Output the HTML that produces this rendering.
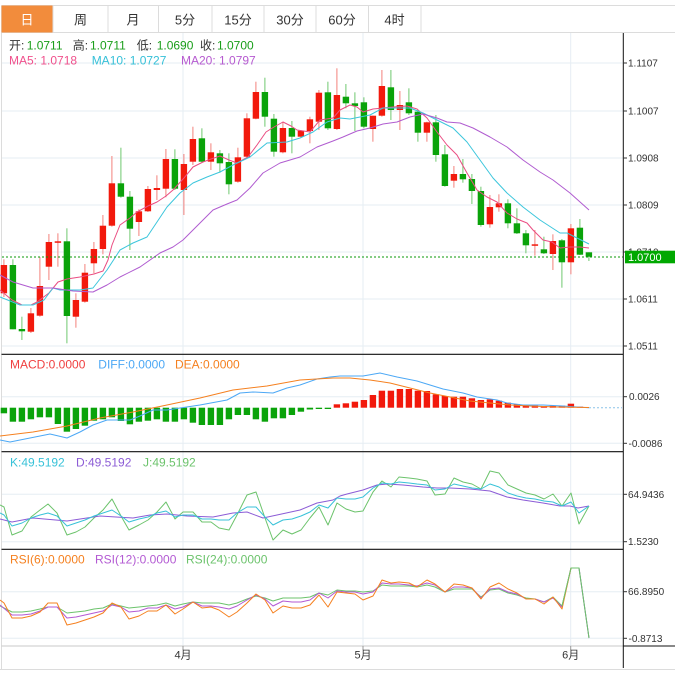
<!DOCTYPE html>
<html><head><meta charset="utf-8"><style>
html,body{margin:0;padding:0;background:#fff;}
body{width:675px;height:676px;overflow:hidden;}
svg{display:block;}
text{font-family:"Liberation Sans","Noto Sans CJK SC",sans-serif;}
.r{fill:#f2190c}.g{fill:#0aa30a}
.rw{stroke:#f4817c;stroke-width:1}.gw{stroke:#6fc86f;stroke-width:1}
.grid{stroke:#e6edf3;stroke-width:1}
.ax{font-size:10px;fill:#333}
.tk{stroke:#333;stroke-width:1}
.tab{font-size:13px;fill:#333;text-anchor:middle}
.pl{fill:none;stroke-width:1;stroke-linejoin:round}
</style></head><body>
<svg width="675" height="676" viewBox="0 0 675 676" xmlns="http://www.w3.org/2000/svg">
<!-- tab bar -->
<line x1="1.5" y1="5.5" x2="675" y2="5.5" stroke="#dcdcdc"/>
<line x1="1.5" y1="32.5" x2="675" y2="32.5" stroke="#dcdcdc"/>
<line x1="1.5" y1="5.5" x2="1.5" y2="669" stroke="#dcdcdc"/>
<rect x="1.5" y="5.5" width="51.5" height="27" fill="#f28c3c"/>
<g stroke="#dcdcdc">
<line x1="53" y1="5.5" x2="53" y2="32.5"/><line x1="108" y1="5.5" x2="108" y2="32.5"/>
<line x1="158.5" y1="5.5" x2="158.5" y2="32.5"/><line x1="212" y1="5.5" x2="212" y2="32.5"/>
<line x1="264" y1="5.5" x2="264" y2="32.5"/><line x1="316" y1="5.5" x2="316" y2="32.5"/>
<line x1="368.5" y1="5.5" x2="368.5" y2="32.5"/><line x1="421" y1="5.5" x2="421" y2="32.5"/>
</g>
<text class="tab" x="27" y="24.5" style="fill:#fff">日</text>
<text class="tab" x="80.5" y="24.5">周</text>
<text class="tab" x="133" y="24.5">月</text>
<text class="tab" x="185" y="24.5">5分</text>
<text class="tab" x="238" y="24.5">15分</text>
<text class="tab" x="290" y="24.5">30分</text>
<text class="tab" x="342" y="24.5">60分</text>
<text class="tab" x="394.5" y="24.5">4时</text>

<!-- grid -->
<g class="grid">
<line x1="2" y1="63" x2="623" y2="63"/><line x1="2" y1="111" x2="623" y2="111"/>
<line x1="2" y1="158" x2="623" y2="158"/><line x1="2" y1="205" x2="623" y2="205"/>
<line x1="2" y1="252" x2="623" y2="252"/><line x1="2" y1="299" x2="623" y2="299"/>
<line x1="2" y1="346" x2="623" y2="346"/>
<line x1="2" y1="396.7" x2="623" y2="396.7"/><line x1="2" y1="443.3" x2="623" y2="443.3"/>
<line x1="2" y1="494.3" x2="623" y2="494.3"/><line x1="2" y1="541.7" x2="623" y2="541.7"/>
<line x1="2" y1="591.7" x2="623" y2="591.7"/><line x1="2" y1="638.3" x2="623" y2="638.3"/>
<line x1="183" y1="33" x2="183" y2="646"/><line x1="363" y1="33" x2="363" y2="646"/>
<line x1="570.7" y1="33" x2="570.7" y2="646"/>
</g>

<!-- legends -->
<g font-size="12">
<text x="9" y="49.5" fill="#333">开:</text><text x="26.7" y="49.5" fill="#1a9e1a">1.0711</text>
<text x="72.7" y="49.5" fill="#333">高:</text><text x="90" y="49.5" fill="#1a9e1a">1.0711</text>
<text x="136.7" y="49.5" fill="#333">低:</text><text x="156.7" y="49.5" fill="#1a9e1a">1.0690</text>
<text x="200" y="49.5" fill="#333">收:</text><text x="217" y="49.5" fill="#1a9e1a">1.0700</text>
<text x="9" y="64.5" fill="#f0508c">MA5: 1.0718</text>
<text x="91.7" y="64.5" fill="#36c0d8">MA10: 1.0727</text>
<text x="181" y="64.5" fill="#b65ad0">MA20: 1.0797</text>
<text x="10" y="368.5" fill="#f04040">MACD:0.0000</text>
<text x="98.3" y="368.5" fill="#4ca8f5">DIFF:0.0000</text>
<text x="175" y="368.5" fill="#f5801f">DEA:0.0000</text>
<text x="10" y="466.5" fill="#38c2d8">K:49.5192</text>
<text x="76" y="466.5" fill="#8c5cd6">D:49.5192</text>
<text x="143" y="466.5" fill="#6cc36c">J:49.5192</text>
<text x="10" y="563.5" fill="#f5801f">RSI(6):0.0000</text>
<text x="95" y="563.5" fill="#b35ad3">RSI(12):0.0000</text>
<text x="186" y="563.5" fill="#6cc36c">RSI(24):0.0000</text>
</g>

<!-- candles -->
<g>
<line class="rw" x1="3.9" y1="259.3" x2="3.9" y2="297"/><rect class="r" x="0.7" y="265" width="6.4" height="28.3"/>
<line class="gw" x1="12.9" y1="259.3" x2="12.9" y2="329.3"/><rect class="g" x="9.7" y="265" width="6.4" height="64.3"/>
<line class="gw" x1="21.9" y1="316.7" x2="21.9" y2="340"/><rect class="g" x="18.7" y="329" width="6.4" height="2.3"/>
<line class="rw" x1="30.9" y1="308" x2="30.9" y2="333"/><rect class="r" x="27.7" y="313.3" width="6.4" height="18.4"/>
<line class="rw" x1="39.9" y1="257" x2="39.9" y2="316.7"/><rect class="r" x="36.7" y="286" width="6.4" height="29.7"/>
<line class="rw" x1="48.9" y1="234" x2="48.9" y2="280"/><rect class="r" x="45.7" y="242" width="6.4" height="24.7"/>
<line class="rw" x1="57.9" y1="233.3" x2="57.9" y2="266.7"/><rect class="r" x="54.7" y="241.3" width="6.4" height="1.5"/>
<line class="gw" x1="66.9" y1="228.3" x2="66.9" y2="343.3"/><rect class="g" x="63.7" y="241.3" width="6.4" height="74.7"/>
<line class="rw" x1="75.9" y1="293.3" x2="75.9" y2="327.7"/><rect class="r" x="72.7" y="300" width="6.4" height="16.7"/>
<line class="rw" x1="84.9" y1="264" x2="84.9" y2="302.7"/><rect class="r" x="81.7" y="272.7" width="6.4" height="29"/>
<line class="rw" x1="93.9" y1="242" x2="93.9" y2="273.3"/><rect class="r" x="90.7" y="249" width="6.4" height="14.3"/>
<line class="rw" x1="102.9" y1="215" x2="102.9" y2="254.3"/><rect class="r" x="99.7" y="225.7" width="6.4" height="23.3"/>
<line class="rw" x1="111.9" y1="156" x2="111.9" y2="226.7"/><rect class="r" x="108.7" y="183.3" width="6.4" height="42.4"/>
<line class="gw" x1="120.9" y1="147.7" x2="120.9" y2="197.7"/><rect class="g" x="117.7" y="183.3" width="6.4" height="13.4"/>
<line class="gw" x1="129.9" y1="191" x2="129.9" y2="250"/><rect class="g" x="126.7" y="196.7" width="6.4" height="32"/>
<line class="rw" x1="138.9" y1="209.3" x2="138.9" y2="236"/><rect class="r" x="135.7" y="211.3" width="6.4" height="10.7"/>
<line class="rw" x1="147.9" y1="186" x2="147.9" y2="212"/><rect class="r" x="144.7" y="189" width="6.4" height="22.3"/>
<line class="rw" x1="156.9" y1="175.3" x2="156.9" y2="200"/><rect class="r" x="153.7" y="188" width="6.4" height="2"/>
<line class="rw" x1="165.9" y1="149" x2="165.9" y2="197.3"/><rect class="r" x="162.7" y="159" width="6.4" height="29.7"/>
<line class="gw" x1="174.9" y1="149.3" x2="174.9" y2="190"/><rect class="g" x="171.7" y="159" width="6.4" height="29.7"/>
<line class="rw" x1="183.9" y1="154" x2="183.9" y2="215"/><rect class="r" x="180.7" y="164" width="6.4" height="26"/>
<line class="rw" x1="192.9" y1="126.7" x2="192.9" y2="165"/><rect class="r" x="189.7" y="139" width="6.4" height="22.7"/>
<line class="gw" x1="201.9" y1="128.3" x2="201.9" y2="162.3"/><rect class="g" x="198.7" y="138.3" width="6.4" height="23.4"/>
<line class="rw" x1="210.9" y1="143.3" x2="210.9" y2="170"/><rect class="r" x="207.7" y="152.3" width="6.4" height="9.4"/>
<line class="gw" x1="219.9" y1="150" x2="219.9" y2="172.7"/><rect class="g" x="216.7" y="153.3" width="6.4" height="10"/>
<line class="gw" x1="228.9" y1="153.3" x2="228.9" y2="194.3"/><rect class="g" x="225.7" y="162" width="6.4" height="22.3"/>
<line class="rw" x1="237.9" y1="147.7" x2="237.9" y2="182.7"/><rect class="r" x="234.7" y="157.3" width="6.4" height="24.4"/>
<line class="rw" x1="246.9" y1="113.3" x2="246.9" y2="157.7"/><rect class="r" x="243.7" y="118.3" width="6.4" height="38.4"/>
<line class="rw" x1="255.9" y1="81.7" x2="255.9" y2="119.3"/><rect class="r" x="252.7" y="92" width="6.4" height="26.7"/>
<line class="gw" x1="264.9" y1="77.7" x2="264.9" y2="126.7"/><rect class="g" x="261.7" y="92" width="6.4" height="24.7"/>
<line class="gw" x1="273.9" y1="114" x2="273.9" y2="156.7"/><rect class="g" x="270.7" y="118.7" width="6.4" height="33"/>
<line class="rw" x1="282.9" y1="121.7" x2="282.9" y2="153.3"/><rect class="r" x="279.7" y="128" width="6.4" height="24.3"/>
<line class="gw" x1="291.9" y1="121" x2="291.9" y2="153.3"/><rect class="g" x="288.7" y="128" width="6.4" height="8.7"/>
<line class="rw" x1="300.9" y1="130" x2="300.9" y2="137.3"/><rect class="r" x="297.7" y="130.7" width="6.4" height="6"/>
<line class="rw" x1="309.9" y1="116.7" x2="309.9" y2="143.3"/><rect class="r" x="306.7" y="119.3" width="6.4" height="11.7"/>
<line class="rw" x1="318.9" y1="90" x2="318.9" y2="130"/><rect class="r" x="315.7" y="92.7" width="6.4" height="29"/>
<line class="gw" x1="327.9" y1="81.7" x2="327.9" y2="130"/><rect class="g" x="324.7" y="92.3" width="6.4" height="36"/>
<line class="rw" x1="336.9" y1="68.3" x2="336.9" y2="130"/><rect class="r" x="333.7" y="95" width="6.4" height="34"/>
<line class="gw" x1="345.9" y1="84" x2="345.9" y2="108.3"/><rect class="g" x="342.7" y="96.7" width="6.4" height="6.6"/>
<line class="gw" x1="354.9" y1="92.3" x2="354.9" y2="131"/><rect class="g" x="351.7" y="103.3" width="6.4" height="2.7"/>
<line class="gw" x1="363.9" y1="97.3" x2="363.9" y2="128.3"/><rect class="g" x="360.7" y="102.3" width="6.4" height="24.4"/>
<line class="rw" x1="372.9" y1="115.7" x2="372.9" y2="141.7"/><rect class="r" x="369.7" y="115.7" width="6.4" height="13.3"/>
<line class="rw" x1="381.9" y1="70" x2="381.9" y2="116.7"/><rect class="r" x="378.7" y="86" width="6.4" height="29.7"/>
<line class="gw" x1="390.9" y1="70" x2="390.9" y2="120"/><rect class="g" x="387.7" y="87.3" width="6.4" height="22.7"/>
<line class="rw" x1="399.9" y1="91" x2="399.9" y2="130"/><rect class="r" x="396.7" y="105" width="6.4" height="5"/>
<line class="gw" x1="408.9" y1="88.3" x2="408.9" y2="115"/><rect class="g" x="405.7" y="102.3" width="6.4" height="11"/>
<line class="gw" x1="417.9" y1="110" x2="417.9" y2="141.7"/><rect class="g" x="414.7" y="111.7" width="6.4" height="21"/>
<line class="rw" x1="426.9" y1="121.7" x2="426.9" y2="141.7"/><rect class="r" x="423.7" y="122.3" width="6.4" height="10.4"/>
<line class="gw" x1="435.9" y1="115" x2="435.9" y2="161.7"/><rect class="g" x="432.7" y="122.3" width="6.4" height="32.7"/>
<line class="gw" x1="444.9" y1="145" x2="444.9" y2="186.7"/><rect class="g" x="441.7" y="154.3" width="6.4" height="31.7"/>
<line class="rw" x1="453.9" y1="166" x2="453.9" y2="187.7"/><rect class="r" x="450.7" y="174" width="6.4" height="6.7"/>
<line class="gw" x1="462.9" y1="159" x2="462.9" y2="182.7"/><rect class="g" x="459.7" y="174" width="6.4" height="5.3"/>
<line class="gw" x1="471.9" y1="174" x2="471.9" y2="204"/><rect class="g" x="468.7" y="179" width="6.4" height="12"/>
<line class="gw" x1="480.9" y1="186.7" x2="480.9" y2="226.7"/><rect class="g" x="477.7" y="191" width="6.4" height="34"/>
<line class="rw" x1="489.9" y1="195" x2="489.9" y2="227.7"/><rect class="r" x="486.7" y="207" width="6.4" height="17.3"/>
<line class="rw" x1="498.9" y1="194.3" x2="498.9" y2="211.7"/><rect class="r" x="495.7" y="203.3" width="6.4" height="4"/>
<line class="gw" x1="507.9" y1="199.3" x2="507.9" y2="228.3"/><rect class="g" x="504.7" y="203.3" width="6.4" height="20"/>
<line class="gw" x1="516.9" y1="208.3" x2="516.9" y2="234"/><rect class="g" x="513.7" y="223.3" width="6.4" height="10"/>
<line class="gw" x1="525.9" y1="230" x2="525.9" y2="253.3"/><rect class="g" x="522.7" y="233.3" width="6.4" height="12"/>
<line class="rw" x1="534.9" y1="230" x2="534.9" y2="255.7"/><rect class="r" x="531.7" y="244.3" width="6.4" height="1.5"/>
<line class="gw" x1="543.9" y1="236.7" x2="543.9" y2="254"/><rect class="g" x="540.7" y="249.3" width="6.4" height="4"/>
<line class="rw" x1="552.9" y1="234.3" x2="552.9" y2="270"/><rect class="r" x="549.7" y="241" width="6.4" height="13"/>
<line class="gw" x1="561.9" y1="239" x2="561.9" y2="287.7"/><rect class="g" x="558.7" y="240.3" width="6.4" height="22"/>
<line class="rw" x1="570.9" y1="224" x2="570.9" y2="274.3"/><rect class="r" x="567.7" y="228.3" width="6.4" height="34"/>
<line class="gw" x1="579.9" y1="219" x2="579.9" y2="255"/><rect class="g" x="576.7" y="227.7" width="6.4" height="27"/>
<line class="gw" x1="588.9" y1="252.3" x2="588.9" y2="261"/><rect class="g" x="585.7" y="252.3" width="6.4" height="4.4"/>
</g>

<!-- MA lines -->
<polyline class="pl" stroke="#ea4d82" points="0,290 12,300 22,305 31,305 37,302 49,293 58,282 67,279 80,277 94,274 103,271 108,260 112,245 120,225 130,218 137,212 148,206 157,202 166,196 173,190 184,178 193,167 203,162 211,159 220,156 229,160 237,163 248,157 257,145 266,132 274,127 283,122 291,126 297,130 310,132 320,120 333,118 340,110 350,105 357,107 363,112 373,109 383,108 393,107 407,106 417,109 427,118 437,132 447,145 457,155 467,173 477,190 487,197 497,202 507,213 517,219 527,223 533,230 543,240 552,242 560,248 570,247 580,247 589,248"/>
<polyline class="pl" stroke="#3cc6dc" points="0,297 20,305 33,305 44,300 53,288 60,290 67,290 80,290 93,288 107,270 120,250 133,243 147,237 157,222 167,207 180,193 193,183 207,177 220,172 233,165 250,157 267,143 287,142 300,138 313,132 327,122 340,118 350,119 370,115 383,108 397,108 410,108 423,113 437,120 453,128 467,142 480,160 493,178 507,193 523,207 540,220 560,233 567,233 577,238 589,244"/>
<polyline class="pl" stroke="#b05cd0" points="0,275 13,282 33,288 53,288 73,291 93,292 107,285 120,277 140,267 160,253 173,247 183,240 200,223 213,210 227,204 237,200 250,188 263,173 280,163 300,157 317,147 333,141 343,137 357,131 370,128 383,124 397,122 410,117 423,114 437,118 447,122 460,123 473,128 490,137 507,147 523,160 540,172 553,180 570,193 589,210"/>

<!-- current price line -->
<line x1="2" y1="257" x2="623" y2="257" stroke="#0a9a0a" stroke-dasharray="2,2"/>

<!-- MACD histogram -->
<g class="g">
<rect x="0.7" y="407.7" width="6.4" height="5.6"/><rect x="9.7" y="407.7" width="6.4" height="14"/>
<rect x="18.7" y="407.7" width="6.4" height="14"/><rect x="27.7" y="407.7" width="6.4" height="11.6"/>
<rect x="36.7" y="407.7" width="6.4" height="9.6"/><rect x="45.7" y="407.7" width="6.4" height="9.6"/>
<rect x="54.7" y="407.7" width="6.4" height="16.3"/><rect x="63.7" y="407.7" width="6.4" height="24"/>
<rect x="72.7" y="407.7" width="6.4" height="21.3"/><rect x="81.7" y="407.7" width="6.4" height="18"/>
<rect x="90.7" y="407.7" width="6.4" height="13"/><rect x="99.7" y="407.7" width="6.4" height="11.6"/>
<rect x="108.7" y="407.7" width="6.4" height="9.6"/><rect x="117.7" y="407.7" width="6.4" height="13.3"/>
<rect x="126.7" y="407.7" width="6.4" height="16.6"/><rect x="135.7" y="407.7" width="6.4" height="14"/>
<rect x="144.7" y="407.7" width="6.4" height="13"/><rect x="153.7" y="407.7" width="6.4" height="11.6"/>
<rect x="162.7" y="407.7" width="6.4" height="14"/><rect x="171.7" y="407.7" width="6.4" height="14"/>
<rect x="180.7" y="407.7" width="6.4" height="11.6"/><rect x="189.7" y="407.7" width="6.4" height="15"/>
<rect x="198.7" y="407.7" width="6.4" height="17.3"/><rect x="207.7" y="407.7" width="6.4" height="17.3"/>
<rect x="216.7" y="407.7" width="6.4" height="17.3"/><rect x="225.7" y="407.7" width="6.4" height="11.6"/>
<rect x="234.7" y="407.7" width="6.4" height="7.3"/><rect x="243.7" y="407.7" width="6.4" height="7.3"/>
<rect x="252.7" y="407.7" width="6.4" height="11.6"/><rect x="261.7" y="407.7" width="6.4" height="14"/>
<rect x="270.7" y="407.7" width="6.4" height="10.6"/><rect x="279.7" y="407.7" width="6.4" height="10.6"/>
<rect x="288.7" y="407.7" width="6.4" height="7.3"/><rect x="297.7" y="407.7" width="6.4" height="4"/>
<rect x="306.7" y="407.7" width="6.4" height="1.8"/><rect x="315.7" y="407.7" width="6.4" height="1.3"/>
<rect x="324.7" y="407.7" width="6.4" height="1.3"/>
</g>
<g class="r">
<rect x="333.7" y="404.3" width="6.4" height="3.4"/><rect x="342.7" y="403.3" width="6.4" height="4.4"/>
<rect x="351.7" y="401.7" width="6.4" height="6"/><rect x="360.7" y="400" width="6.4" height="7.7"/>
<rect x="369.7" y="395" width="6.4" height="12.7"/><rect x="378.7" y="390.7" width="6.4" height="17"/>
<rect x="387.7" y="390.7" width="6.4" height="17"/><rect x="396.7" y="389" width="6.4" height="18.7"/>
<rect x="405.7" y="389" width="6.4" height="18.7"/><rect x="414.7" y="390.7" width="6.4" height="17"/>
<rect x="423.7" y="391" width="6.4" height="16.7"/><rect x="432.7" y="394.3" width="6.4" height="13.4"/>
<rect x="441.7" y="396" width="6.4" height="11.7"/><rect x="450.7" y="396.7" width="6.4" height="11"/>
<rect x="459.7" y="396.7" width="6.4" height="11"/><rect x="468.7" y="398.3" width="6.4" height="9.4"/>
<rect x="477.7" y="400" width="6.4" height="7.7"/><rect x="486.7" y="399.3" width="6.4" height="8.4"/>
<rect x="495.7" y="400.7" width="6.4" height="7"/><rect x="504.7" y="402.7" width="6.4" height="5"/>
<rect x="513.7" y="404" width="6.4" height="3.7"/><rect x="522.7" y="405" width="6.4" height="2.7"/>
<rect x="531.7" y="405.7" width="6.4" height="2"/><rect x="540.7" y="406" width="6.4" height="1.7"/>
<rect x="549.7" y="405.7" width="6.4" height="2"/><rect x="558.7" y="405.7" width="6.4" height="2"/>
<rect x="567.7" y="403.7" width="6.4" height="4"/><rect x="576.7" y="406.7" width="6.4" height="1"/>
</g>
<line x1="589" y1="407.7" x2="622" y2="407.7" stroke="#8cc4e8" stroke-dasharray="2,2"/>
<polyline class="pl" stroke="#4ca8f5" points="0,440 10,442 20,440 40,436 50,434 67,438 80,432 93,425 107,420 130,420 140,416 153,410 167,410 180,408 200,405 227,400 240,393 253,392 273,393 287,388 300,385 317,379 330,377 340,376 350,376 363,376 380,373 397,377 417,381 430,385 443,389 463,393 477,397 497,400 507,403 523,405 543,405 563,406 577,407 589,407.7"/>
<polyline class="pl" stroke="#f5801f" points="0,436 33,432 67,426 100,418 133,412 167,405 200,398 233,390 267,386 300,380 333,378 350,378 370,380 390,383 410,388 430,393 450,397 470,401 490,403 510,405 530,406 557,407 589,407.5"/>

<!-- KDJ -->
<polyline class="pl" stroke="#6cc36c" points="0,505 4,507 12,535 22,531 31,517 40,510 48,504 57,513 67,535 76,532 85,527 94,518 103,510 112,499 121,516 129,530 139,525 148,520 157,512 166,502 175,519 183,512 193,512 202,522 211,522 219,528 229,530 237,515 247,495 256,492 265,518 273,540 283,530 292,534 301,530 310,518 319,507 328,525 337,503 346,509 355,512 363,511 373,492 382,481 391,487 399,477 409,478 417,479 427,481 435,495 445,494 454,478 463,482 472,484 481,489 490,471 499,473 508,485 517,489 526,493 535,495 544,499 553,494 562,506 571,493 579,524 589,506"/>
<polyline class="pl" stroke="#8c5cd6" points="0,519 12,522 33,518 67,521 100,516 133,518 150,515 167,514 187,516 213,517 233,513 247,512 263,518 277,515 300,510 317,503 333,500 340,496 347,494 363,490 377,485 387,484 403,485 423,487 437,488 450,488 470,489 490,491 507,497 523,500 543,503 560,506 570,506 578,508 589,506"/>
<polyline class="pl" stroke="#38c2d8" points="0,513 4,515 12,526 22,523 31,518 40,515 48,513 57,516 67,526 76,523 85,520 94,516 103,513 112,510 121,516 129,522 139,519 148,517 157,513 166,511 175,517 183,515 193,515 202,519 211,519 219,520 229,520 237,513 247,507 256,507 265,517 273,525 283,520 292,519 301,516 310,512 319,505 328,508 337,498 346,499 355,499 363,497 373,488 382,483 391,484 399,482 409,483 417,484 427,485 435,490 445,489 454,484 463,486 472,488 481,489 490,484 499,487 508,493 517,496 526,498 535,499 544,501 553,502 562,506 571,502 579,513 589,506"/>

<!-- RSI -->
<polyline class="pl" stroke="#6cc36c" points="0,606 12,612 22,612 31,611 40,609 48,607 57,607 67,613 76,612 85,611 94,609 103,608 112,604 121,606 129,608 139,607 148,606 157,605 166,603 175,606 183,604 193,602 202,603 211,603 219,603 229,605 237,603 247,599 256,596 265,598 273,601 283,598 292,598 301,598 310,597 319,593 328,595 337,590 346,591 355,591 363,592 373,591 382,585 391,586 399,586 409,586 417,587 427,585 435,587 445,592 454,589 463,589 472,589 481,597 490,590 499,589 508,593 517,595 526,598 535,599 544,602 553,597 562,606 571,568 579,568 589,638"/>
<polyline class="pl" stroke="#b35ad3" points="0,605 12,615 22,615 31,614 40,611 48,607 57,607 67,618 76,617 85,615 94,613 103,611 112,605 121,607 129,612 139,611 148,608 157,608 166,605 175,609 183,607 193,602 202,606 211,606 219,607 229,609 237,606 247,600 256,595 265,599 273,606 283,601 292,602 301,602 310,600 319,593 328,598 337,591 346,592 355,592 363,594 373,592 382,583 391,584 399,584 409,585 417,586 427,583 435,585 445,592 454,587 463,587 472,588 481,598 490,589 499,588 508,592 517,594 526,599 535,599 544,602 553,598 562,607 571,568 579,568 589,638"/>
<polyline class="pl" stroke="#f5801f" points="0,600 4,603 12,618 22,618 31,616 40,612 48,603 57,603 67,625 76,623 85,620 94,617 103,613 112,603 121,607 129,619 139,616 148,611 157,611 166,605 175,614 183,609 193,602 202,608 211,607 219,610 229,617 237,612 247,603 256,594 265,600 273,613 283,606 292,608 301,608 310,605 319,595 328,607 337,592 346,593 355,594 363,600 373,596 382,580 391,583 399,582 409,583 417,587 427,580 435,584 445,592 454,584 463,585 472,588 481,599 490,587 499,583 508,589 517,593 526,599 535,599 544,604 553,597 562,609 571,568 579,568"/>
<polyline class="pl" stroke="#6cc36c" points="562,606 571,568 579,568 589,638"/>

<!-- panel separators -->
<g stroke="#111" stroke-width="1.2">
<line x1="1.5" y1="354.3" x2="623" y2="354.3"/>
<line x1="1.5" y1="451.7" x2="623" y2="451.7"/>
<line x1="1.5" y1="549.3" x2="623" y2="549.3"/>
</g>
<!-- bottom axis -->
<line x1="1.5" y1="646" x2="623" y2="646" stroke="#c8c8c8"/>
<line x1="623" y1="646" x2="675" y2="646" stroke="#111"/>
<line x1="623.3" y1="33" x2="623.3" y2="668" stroke="#111"/>
<line x1="0" y1="669.5" x2="675" y2="669.5" stroke="#dcdcdc"/>
<g stroke="#999"><line x1="183" y1="646" x2="183" y2="650"/><line x1="363" y1="646" x2="363" y2="650"/><line x1="570.7" y1="646" x2="570.7" y2="650"/></g>
<g font-size="11" fill="#333" text-anchor="middle">
<text x="183" y="658.5">4月</text><text x="363" y="658.5">5月</text><text x="570.7" y="658.5">6月</text>
</g>

<!-- right axis ticks and labels -->
<g class="tk">
<line x1="623" y1="63" x2="627" y2="63"/><line x1="623" y1="111" x2="627" y2="111"/>
<line x1="623" y1="158" x2="627" y2="158"/><line x1="623" y1="205" x2="627" y2="205"/>
<line x1="623" y1="252" x2="627" y2="252"/><line x1="623" y1="299" x2="627" y2="299"/>
<line x1="623" y1="346" x2="627" y2="346"/>
<line x1="623" y1="396.7" x2="627" y2="396.7"/><line x1="623" y1="443.3" x2="627" y2="443.3"/>
<line x1="623" y1="494.3" x2="627" y2="494.3"/><line x1="623" y1="541.7" x2="627" y2="541.7"/>
<line x1="623" y1="591.7" x2="627" y2="591.7"/><line x1="623" y1="638.3" x2="627" y2="638.3"/>
</g>
<g class="ax">
<text x="628" y="66.5">1.1107</text>
<text x="628" y="114.5">1.1007</text>
<text x="628" y="161.5">1.0908</text>
<text x="628" y="208.5">1.0809</text>
<text x="628" y="255.5">1.0710</text>
<text x="628" y="302.5">1.0611</text>
<text x="628" y="349.5">1.0511</text>
<text x="629" y="400.2">0.0026</text>
<text x="628.5" y="446.8">-0.0086</text>
<text x="628" y="497.8">64.9436</text>
<text x="628" y="545.2">1.5230</text>
<text x="628" y="595.2">66.8950</text>
<text x="628.5" y="641.8">-0.8713</text>
</g>
<rect x="625" y="250.7" width="50" height="12.6" fill="#00a800"/>
<text x="628" y="261" font-size="11" fill="#fff">1.0700</text>
</svg>
</body></html>
